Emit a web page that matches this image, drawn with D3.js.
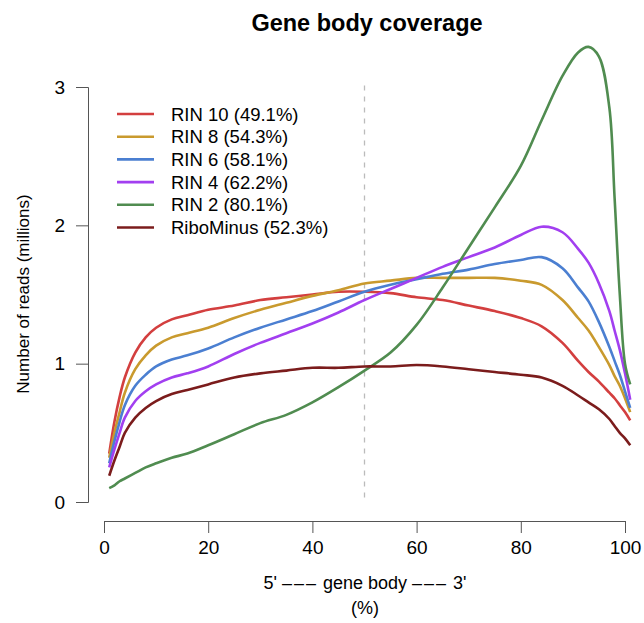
<!DOCTYPE html>
<html>
<head>
<meta charset="utf-8">
<script src="https://cdn.jsdelivr.net/npm/d3@7"></script>
<style>
  body { margin: 0; background: #fff; }
  svg { display: block; font-family: "Liberation Sans", Arial, sans-serif; }
</style>
</head>
<body>
<script>
// gene body percentile positions (shared by all samples)
const positions = [1, 2, 3, 4, 6, 8, 10, 13, 16, 20, 25, 30, 35, 40, 45, 50, 55, 60, 65, 70, 75, 80, 84, 88, 91, 93, 95, 97, 98, 99, 100, 101];

// read counts in millions
const rin10 = [0.35, 0.58, 0.76, 0.90, 1.08, 1.19, 1.26, 1.32, 1.35, 1.39, 1.42, 1.46, 1.48, 1.50, 1.52, 1.52, 1.51, 1.48, 1.46, 1.42, 1.38, 1.33, 1.27, 1.15, 1.02, 0.94, 0.87, 0.79, 0.75, 0.70, 0.65, 0.59];
const rin8 = [0.32, 0.50, 0.65, 0.79, 0.96, 1.06, 1.13, 1.19, 1.22, 1.26, 1.33, 1.39, 1.44, 1.49, 1.53, 1.58, 1.60, 1.62, 1.62, 1.62, 1.62, 1.60, 1.57, 1.46, 1.33, 1.24, 1.12, 0.99, 0.91, 0.84, 0.75, 0.65];
const rin6 = [0.28, 0.44, 0.58, 0.70, 0.84, 0.92, 0.98, 1.03, 1.06, 1.11, 1.19, 1.26, 1.32, 1.38, 1.45, 1.52, 1.57, 1.61, 1.65, 1.68, 1.72, 1.75, 1.77, 1.69, 1.55, 1.45, 1.30, 1.12, 1.02, 0.92, 0.80, 0.68];
const rin4 = [0.25, 0.38, 0.50, 0.61, 0.73, 0.80, 0.85, 0.90, 0.93, 0.98, 1.07, 1.15, 1.22, 1.29, 1.37, 1.46, 1.54, 1.62, 1.70, 1.77, 1.84, 1.93, 1.99, 1.95, 1.83, 1.73, 1.58, 1.38, 1.24, 1.10, 0.93, 0.74];
const rin2 = [0.10, 0.12, 0.15, 0.17, 0.21, 0.25, 0.28, 0.32, 0.35, 0.41, 0.49, 0.57, 0.63, 0.72, 0.83, 0.95, 1.08, 1.28, 1.55, 1.84, 2.13, 2.43, 2.76, 3.08, 3.25, 3.29, 3.22, 2.85, 2.20, 1.50, 1.00, 0.85];
const riboMinus = [0.19, 0.30, 0.40, 0.50, 0.61, 0.68, 0.73, 0.78, 0.81, 0.85, 0.90, 0.93, 0.95, 0.97, 0.97, 0.98, 0.98, 0.99, 0.98, 0.96, 0.94, 0.92, 0.90, 0.84, 0.77, 0.72, 0.67, 0.60, 0.55, 0.50, 0.46, 0.41];

const labels = ["RIN 10 (49.1%)", "RIN 8 (54.3%)", "RIN 6 (58.1%)", "RIN 4 (62.2%)", "RIN 2 (80.1%)", "RiboMinus (52.3%)"];
const colors = ["#d33f3f", "#c99a2e", "#4b7fd1", "#a23ff0", "#508c50", "#7b1c1c"];
const xTicks = [0, 20, 40, 60, 80, 100];
const yTicks = [0, 1, 2, 3];

const series = [rin10, rin8, rin6, rin4, rin2, riboMinus].map((v, i) => ({
  label: labels[i],
  color: colors[i],
  values: v.map((y, j) => [positions[j], y])
}));

const width = 644, height = 623;

const x = d3.scaleLinear([0, 100], [104, 625]);
const y = d3.scaleLinear([0, 3], [502, 87]);

const svg = d3.select("body").append("svg")
    .attr("width", width)
    .attr("height", height);

// title
svg.append("text")
    .attr("x", 367)
    .attr("y", 31)
    .attr("text-anchor", "middle")
    .attr("font-weight", "bold")
    .attr("font-size", 23.5)
    .text("Gene body coverage");

// 50% marker
svg.append("line")
    .attr("x1", x(50)).attr("x2", x(50))
    .attr("y1", y(3.01)).attr("y2", y(0))
    .attr("stroke", "#bbb")
    .attr("stroke-width", 1.3)
    .attr("stroke-dasharray", "5,6");

// axes
svg.append("g")
    .attr("transform", "translate(88,0)")
    .call(d3.axisLeft(y).tickValues(yTicks).tickFormat(d3.format("d")).tickSize(12).tickPadding(11))
    .call(g => g.selectAll("line, path").attr("stroke", "#555"))
    .call(g => g.selectAll("text").attr("font-size", 19).attr("fill", "#000"))
    .attr("font-family", null);

svg.append("g")
    .attr("transform", "translate(0,521)")
    .call(d3.axisBottom(x).tickValues(xTicks).tickSize(12).tickPadding(8))
    .call(g => g.selectAll("line, path").attr("stroke", "#555"))
    .call(g => g.selectAll("text").attr("font-size", 19).attr("fill", "#000"))
    .attr("font-family", null);

// axis titles
const xTitle = svg.append("text")
    .attr("x", 365)
    .attr("y", 589)
    .attr("text-anchor", "middle")
    .attr("font-size", 18);
xTitle.append("tspan").text("5' ");
xTitle.append("tspan").attr("letter-spacing", 2).text("\u2013\u2013\u2013");
xTitle.append("tspan").text(" gene body ");
xTitle.append("tspan").attr("letter-spacing", 2).text("\u2013\u2013\u2013");
xTitle.append("tspan").text(" 3'");

svg.append("text")
    .attr("x", 365)
    .attr("y", 614)
    .attr("text-anchor", "middle")
    .attr("font-size", 18)
    .text("(%)");

svg.append("text")
    .attr("transform", "translate(29,294) rotate(-90)")
    .attr("text-anchor", "middle")
    .attr("font-size", 17)
    .text("Number of reads (millions)");

// coverage lines
const line = d3.line()
    .x(d => x(d[0]))
    .y(d => y(d[1]))
    .curve(d3.curveCatmullRom.alpha(0.5));

svg.append("g")
    .attr("fill", "none")
    .attr("stroke-width", 2.6)
    .attr("stroke-linejoin", "round")
  .selectAll("path")
  .data(series)
  .join("path")
    .attr("stroke", d => d.color)
    .attr("d", d => line(d.values));

// legend
const legend = svg.append("g")
  .selectAll("g")
  .data(series)
  .join("g")
    .attr("transform", (d, i) => `translate(0,${114 + i * 22.7})`);

legend.append("line")
    .attr("x1", 117).attr("x2", 154)
    .attr("stroke", d => d.color)
    .attr("stroke-width", 2.6);

legend.append("text")
    .attr("x", 171)
    .attr("dy", "0.36em")
    .attr("font-size", 18.5)
    .text(d => d.label);
</script>
</body>
</html>
